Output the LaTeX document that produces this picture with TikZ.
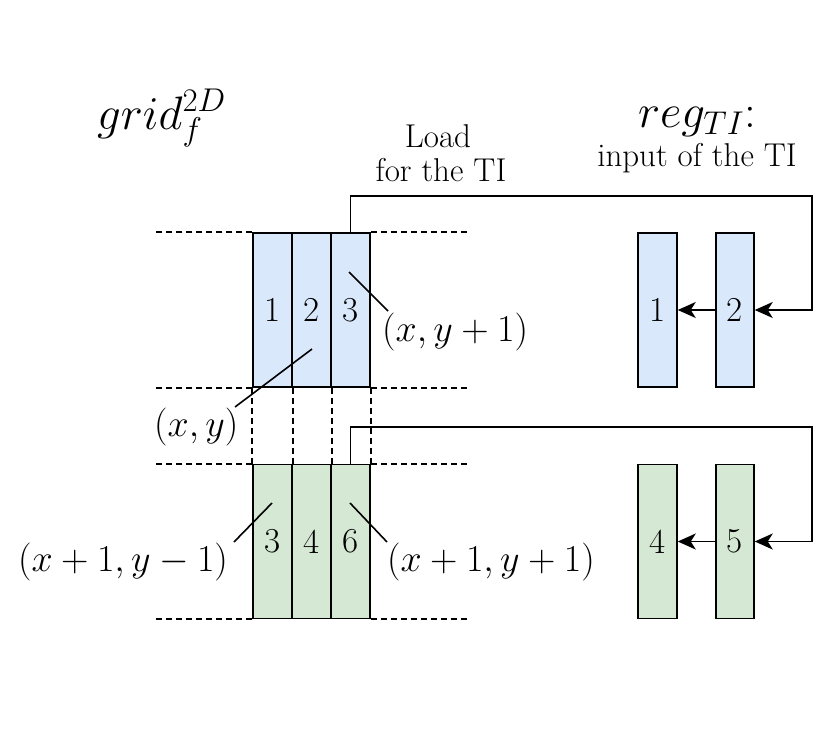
\RequirePackage{fix-cm}
\documentclass[tikz,border=0pt]{standalone}
\usetikzlibrary{arrows.meta}
\definecolor{bluefill}{HTML}{DAE8FC}
\definecolor{greenfill}{HTML}{D5E8D4}
\tikzset{
  cell/.style={draw=black, line width=1.5pt, minimum width=39pt, minimum height=154pt, inner sep=0pt,
    font=\fontsize{35}{38}\selectfont},
  cellB/.style={cell, fill=bluefill},
  cellG/.style={cell, fill=greenfill},
  gridline/.style={line width=1.8pt, dash pattern=on 6pt off 4pt},
  conn/.style={line width=1.6pt, -{Stealth[length=18pt,width=16pt,inset=5pt]}},
  pointer/.style={line width=1.6pt},
  mlabel/.style={inner sep=0pt, anchor=base west, font=\fontsize{38}{42}\selectfont},
  ttl/.style={inner sep=0pt, font=\fontsize{47}{50}\selectfont},
  txt/.style={inner sep=0pt, anchor=base, font=\fontsize{33}{38}\selectfont}
}
\begin{document}
\begin{tikzpicture}[x=1pt,y=-1pt]
\useasboundingbox (0,0) rectangle (831,755);
% grid f cells
\node[cellB] (b1) at (272.5,310) {1};
\node[cellB] (b2) at (311.5,310) {2};
\node[cellB] (b3) at (350.5,310) {3};
\node[cellG] (g1) at (272.5,541.5) {3};
\node[cellG] (g2) at (311.5,541.5) {4};
\node[cellG] (g3) at (350.5,541.5) {6};
% register cells
\node[cellB] (r1) at (657.5,310) {1};
\node[cellB, minimum width=38pt] (r2) at (735,310) {2};
\node[cellG] (r4) at (657.5,541.5) {4};
\node[cellG, minimum width=38pt] (r5) at (735,541.5) {5};
% dashed grid lines
\draw[gridline] (b1.north west) -- ++(-96,0);
\draw[gridline] (b3.north east) -- ++(96,0);
\draw[gridline] (b1.south west) -- ++(-96,0);
\draw[gridline] (b3.south east) -- ++(96,0);
\draw[gridline] (g1.north west) -- ++(-96,0);
\draw[gridline] (g3.north east) -- ++(96,0);
\draw[gridline] (g1.south west) -- ++(-96,0);
\draw[gridline] (g3.south east) -- ++(96,0);
\draw[gridline] (b1.south west) -- (g1.north west);
\draw[gridline] (b1.south east) -- (g1.north east);
\draw[gridline] (b2.south east) -- (g2.north east);
\draw[gridline] (b3.south east) -- (g3.north east);
% titles
\node[ttl, anchor=base west] (tgrid) at (97,129) {$grid_f^{2D}$};
\node[ttl, anchor=base] (treg) at (697,127) {$reg_{TI}$:};
\node[txt] (tload) at (438,147) {Load};
\node[txt] (tfor) at (441,181) {for the TI};
\node[txt] (tinput) at (697,166) {input of the TI};
% connectors
\coordinate (c1) at (812,196);
\coordinate (c2) at (812,427);
\draw[conn] (b3.north) |- (c1) |- (r2.east);
\draw[conn] (r2.west) -- (r1.east);
\draw[conn] (g3.north) |- (c2) |- (r5.east);
\draw[conn] (r5.west) -- (r4.east);
% labels
\node[mlabel] (l1) at (382,341) {$(x, y+1)$};
\node[mlabel] (l2) at (154,436) {$(x, y)$};
\node[mlabel] (l3) at (18,571) {$(x+1, y-1)$};
\node[mlabel] (l4) at (387,571) {$(x+1, y+1)$};
\coordinate (p1a) at (349,272); \coordinate (p1b) at (388,311);
\coordinate (p2a) at (312,349); \coordinate (p2b) at (235,407);
\coordinate (p3a) at (272,503); \coordinate (p3b) at (234,542);
\coordinate (p4a) at (350,503); \coordinate (p4b) at (387,542);
\draw[pointer] (p1a) -- (p1b);
\draw[pointer] (p2a) -- (p2b);
\draw[pointer] (p3a) -- (p3b);
\draw[pointer] (p4a) -- (p4b);
\end{tikzpicture}
\end{document}
